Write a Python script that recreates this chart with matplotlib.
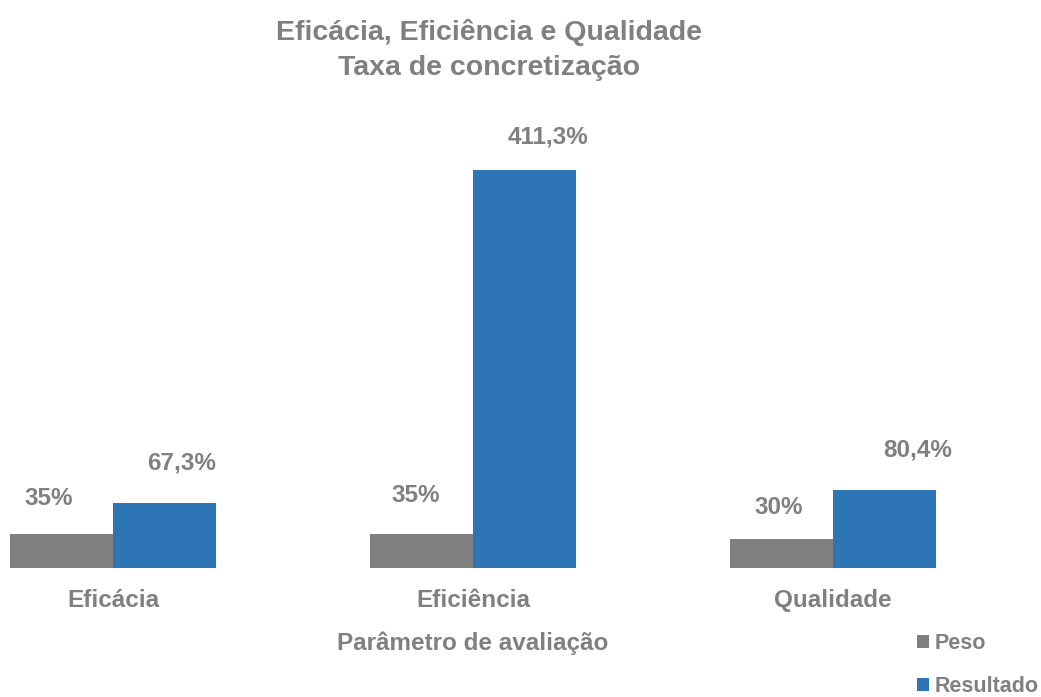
import numpy as np
import matplotlib.pyplot as plt
import matplotlib

matplotlib.rc('font', family='Liberation Sans', weight='bold')

categories = ['Eficácia', 'Eficiência', 'Qualidade']
peso = [35, 35, 30]
resultado = [67.3, 411.3, 80.4]
peso_labels = ['35%', '35%', '30%']
resultado_labels = ['67,3%', '411,3%', '80,4%']

grey = '#7f7f7f'
blue = '#2e75b6'
text_col = '#808080'

W, H = 1041, 697
fig = plt.figure(figsize=(W / 100, H / 100), dpi=100)
# plot area in pixels: bottom edge at the baseline
ax = fig.add_axes([0, (H - 568) / H, 1, (568 - 100) / H])

x = np.arange(len(categories))
w = 0.286
b1 = ax.bar(x - w / 2, peso, w, color=grey, label='Peso')
b2 = ax.bar(x + w / 2, resultado, w, color=blue, label='Resultado')

# hand-placed label nudges (points) for each series
peso_off = [(-9, 26), (-4, 28), (-2, 23)]
res_off = [(12, 29), (17, 24), (24, 29)]
for i in range(len(categories)):
    ax.annotate(peso_labels[i], (x[i] - w / 2, peso[i]), xytext=peso_off[i],
                textcoords='offset points', ha='center', va='center',
                fontsize=17.5, color=text_col)
    ax.annotate(resultado_labels[i], (x[i] + w / 2, resultado[i]), xytext=res_off[i],
                textcoords='offset points', ha='center', va='center',
                fontsize=17.5, color=text_col)

ax.set_xlim(-113 / 360, (W - 113) / 360)
ax.set_ylim(0, 468 / 0.968)
ax.set_xticks(x)
ax.set_xticklabels(categories, fontsize=17.5, color=text_col)
ax.tick_params(axis='x', length=0, pad=15)
ax.set_yticks([])
for s in ax.spines.values():
    s.set_visible(False)

fig.text(473 / W, 1 - 643 / H, 'Parâmetro de avaliação', ha='center', va='center',
         fontsize=17.5, color=text_col)
fig.text(489 / W, 1 - 50 / H, 'Eficácia, Eficiência e Qualidade\nTaxa de concretização',
         ha='center', va='center', fontsize=20.5, color=text_col, linespacing=1.45)

leg = fig.legend(handles=[b1, b2], loc='lower left', bbox_to_anchor=(917 / W, 0),
                 frameon=False, fontsize=15.5, handlelength=0.56, handleheight=0.56,
                 handletextpad=0.25, labelspacing=1.0, borderpad=0, borderaxespad=0)
for t in leg.get_texts():
    t.set_color(text_col)

plt.savefig('out.png', dpi=100)
